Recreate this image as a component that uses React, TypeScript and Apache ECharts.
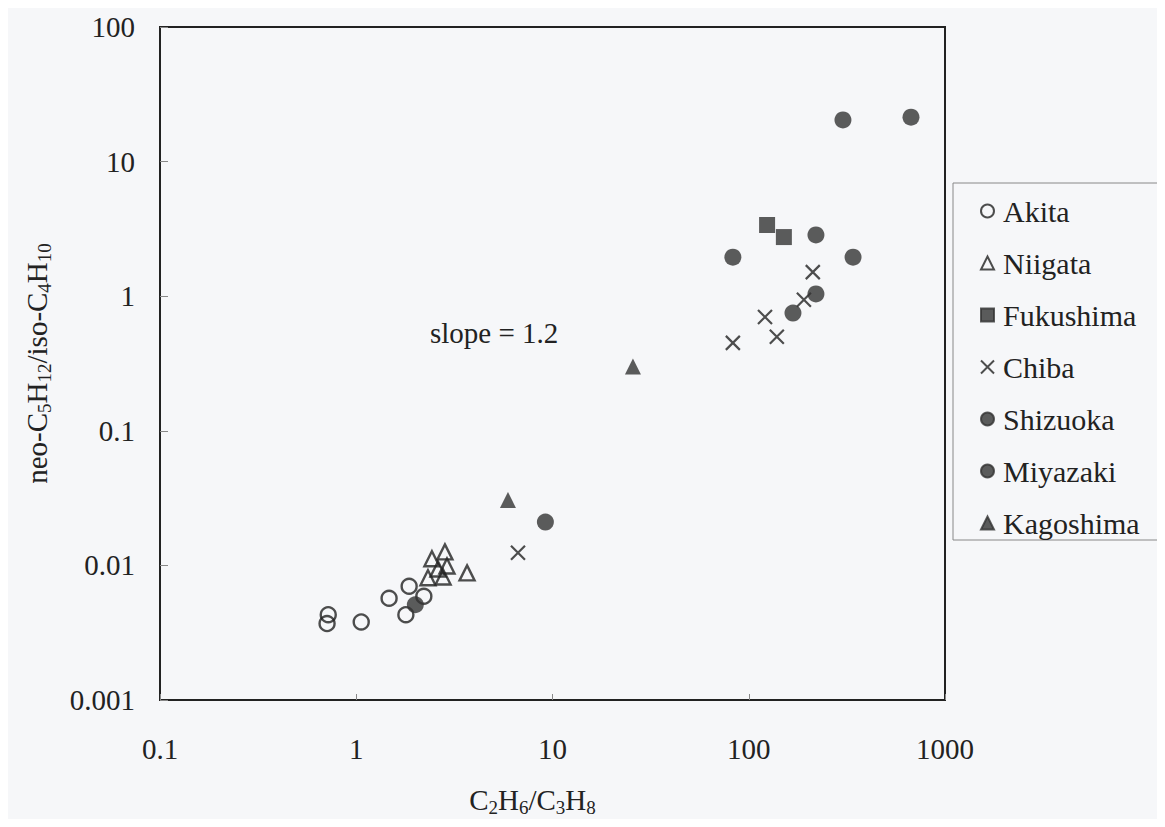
import React, { useEffect, useRef } from "react";
import * as echarts from "echarts";

const FONT = "Liberation Serif";
const INK = "#222222";

// [C2H6/C3H8, neo-C5H12/iso-C4H10]
const akita: number[][] = [
  [0.72, 0.0043], [0.71, 0.0037], [1.06, 0.0038], [1.47, 0.0057],
  [1.86, 0.007], [2.21, 0.0059], [1.79, 0.0043],
];
const niigata: number[][] = [
  [2.43, 0.0112], [2.83, 0.0126], [2.9, 0.0099], [2.61, 0.0094],
  [2.32, 0.0081], [2.77, 0.0082], [3.67, 0.0088],
];
const fukushima: number[][] = [[124, 3.38], [151, 2.75]];
const chiba: number[][] = [
  [6.67, 0.0124], [83, 0.45], [121, 0.7], [139, 0.5], [191, 0.94], [212, 1.51],
];
const shizuoka: number[][] = [
  [83, 1.95], [220, 2.85], [340, 1.95], [220, 1.04], [168, 0.75],
];
const miyazaki: number[][] = [[2.0, 0.0051], [9.2, 0.021], [302, 20.4], [671, 21.4]];
const kagoshima: number[][] = [[5.93, 0.0306], [25.7, 0.3]];

const xTicks = [0.1, 1, 10, 100, 1000];
const yTicks = [0.001, 0.01, 0.1, 1, 10, 100];
const slopeLabel = "slope = 1.2";

const CROSS = "path://M0,0L10,10M10,0L0,10";

const fmt = (v: number) => String(Number(v.toPrecision(6)));

export default function App() {
  const ref = useRef<HTMLDivElement>(null);
  useEffect(() => {
    if (!ref.current) return;
    const chart = echarts.init(ref.current, undefined, { renderer: "svg" });
    const rich = {
      m: { fontSize: 29, fontFamily: FONT, color: INK, lineHeight: 34 },
      s: { fontSize: 19, fontFamily: FONT, color: INK, lineHeight: 20, verticalAlign: "bottom" },
    };
    const open = (symbol: string, size: number) => ({
      symbol,
      symbolSize: size,
      itemStyle: { color: "rgba(0,0,0,0)", borderColor: INK, borderWidth: 2.4 },
    });
    const filled = (symbol: string, size: number) => ({
      symbol,
      symbolSize: size,
      itemStyle: { color: "#333", borderColor: "#333", borderWidth: 0 },
    });
    const series: any[] = [
      { name: "Akita", data: akita, ...open("circle", 15) },
      { name: "Niigata", data: niigata, ...open("triangle", 15) },
      { name: "Fukushima", data: fukushima, ...filled("rect", 16) },
      {
        name: "Chiba",
        data: chiba,
        symbol: CROSS,
        symbolSize: 14,
        itemStyle: { color: "rgba(0,0,0,0)", borderColor: INK, borderWidth: 2.2 },
      },
      { name: "Shizuoka", data: shizuoka, ...filled("circle", 17) },
      { name: "Miyazaki", data: miyazaki, ...filled("circle", 17) },
      { name: "Kagoshima", data: kagoshima, ...filled("triangle", 16) },
    ].map((s) => ({ type: "scatter", ...s }));

    chart.setOption({
      animation: false,
      backgroundColor: "#f6f7f9",
      textStyle: { fontFamily: FONT },
      grid: {
        left: 160,
        right: 220,
        top: 27,
        bottom: 127,
        show: true,
        borderColor: INK,
        borderWidth: 2,
        backgroundColor: "transparent",
      },
      xAxis: {
        type: "log",
        logBase: 10,
        min: xTicks[0],
        max: xTicks[xTicks.length - 1],
        splitLine: { show: false },
        minorTick: { show: false },
        axisLine: { lineStyle: { color: INK, width: 2 } },
        axisTick: { inside: true, length: 6, lineStyle: { color: "#888", width: 1 } },
        axisLabel: {
          formatter: (v: number) => fmt(v),
          fontSize: 29,
          fontFamily: FONT,
          color: INK,
          margin: 34,
        },
        name: "{m|C}{s|2}{m|H}{s|6}{m|/C}{s|3}{m|H}{s|8}",
        nameLocation: "middle",
        nameGap: 83,
        nameTextStyle: { rich, padding: [0, 40, 0, 0] },
      },
      yAxis: {
        type: "log",
        logBase: 10,
        min: yTicks[0],
        max: yTicks[yTicks.length - 1],
        splitLine: { show: false },
        minorTick: { show: false },
        axisLine: { lineStyle: { color: INK, width: 2 } },
        axisTick: { inside: true, length: 8, lineStyle: { color: "#888", width: 1 } },
        axisLabel: {
          formatter: (v: number) => fmt(v),
          fontSize: 29,
          fontFamily: FONT,
          color: INK,
          margin: 25,
        },
        name: "{m|neo-C}{s|5}{m|H}{s|12}{m|/iso-C}{s|4}{m|H}{s|10}",
        nameLocation: "middle",
        nameGap: 106,
        nameTextStyle: { rich },
      },
      legend: {
        orient: "vertical",
        left: 953,
        top: 183,
        padding: [13, 22, 2, 27],
        itemGap: 22,
        itemWidth: 13,
        itemHeight: 13,
        itemStyle: { borderWidth: 2 },
        borderColor: "#888",
        borderWidth: 1,
        backgroundColor: "transparent",
        textStyle: { fontSize: 30, fontFamily: FONT, color: INK, lineHeight: 30, padding: [0, 0, 0, 4] },
        data: series.map((s) => s.name),
      },
      graphic: [
        {
          type: "text",
          left: 430,
          top: 318,
          style: { text: slopeLabel, font: `29px ${FONT}`, fill: INK },
        },
      ],
      series,
    });
    return () => chart.dispose();
  }, []);
  return <div ref={ref} style={{ width: 1165, height: 827, margin: -8 }} />;
}
